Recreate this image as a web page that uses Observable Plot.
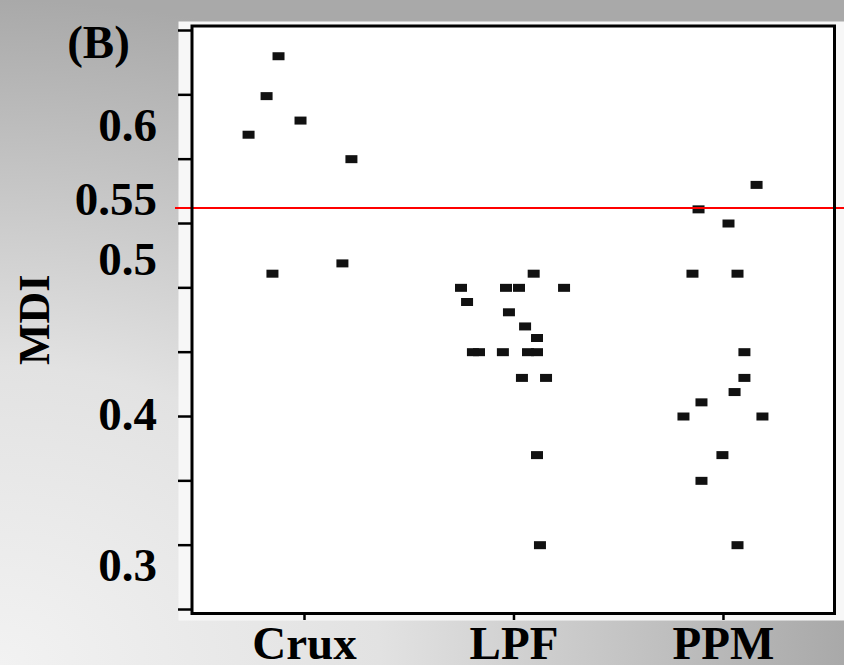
<!DOCTYPE html>
<html>
<head>
<meta charset="utf-8">
<script src="https://cdn.jsdelivr.net/npm/d3@7"></script>
<script src="https://cdn.jsdelivr.net/npm/@observablehq/plot@0.6"></script>
<style>
  html, body { margin: 0; padding: 0; }
  body {
    width: 844px; height: 665px; overflow: hidden;
    background: radial-gradient(ellipse 100% 100% at 0% 100%, #f2f2f2 0%, #e2e2e2 45%, #a9a9a9 100%);
  }
  #chart svg { display: block; }
</style>
</head>
<body>
<div id="chart"></div>
<script>
// ---- data ----
const categories = ["Crux", "LPF", "PPM"];

const cruxMDI    = [0.680, 0.649, 0.630, 0.619, 0.600, 0.519, 0.511];
const cruxJitter = [-0.124, -0.181, -0.019, -0.267, 0.224, 0.181, -0.153];

const lpfMDI    = [0.511, 0.500, 0.500, 0.500, 0.500, 0.489, 0.481, 0.470, 0.461,
                   0.450, 0.450, 0.450, 0.450, 0.450, 0.430, 0.430, 0.370, 0.300];
const lpfJitter = [0.094, -0.253, -0.038, 0.024, 0.239, -0.224, -0.024, 0.053, 0.110,
                   -0.196, -0.167, -0.053, 0.067, 0.110, 0.038, 0.153, 0.110, 0.124];

const ppmMDI    = [0.580, 0.561, 0.550, 0.511, 0.511, 0.450, 0.430, 0.419, 0.411,
                   0.400, 0.400, 0.370, 0.350, 0.300];
const ppmJitter = [0.158, -0.119, 0.024, -0.148, 0.067, 0.100, 0.100, 0.053, -0.105,
                   -0.191, 0.186, -0.005, -0.105, 0.067];

const threshold = 0.562;                       // red reference line ("0.55")
const yTicks = [0.25, 0.30, 0.35, 0.40, 0.45, 0.50, 0.55, 0.60, 0.65, 0.70];
const yLabelText = ["0.3", "0.4", "0.5", "0.55", "0.6"];
const yLabelAt   = [0.284, 0.401, 0.522, 0.568, 0.626];
const yTitle = "MDI";
const panelTag = "(B)";

// ---- build table ----
const groups = [[cruxMDI, cruxJitter], [lpfMDI, lpfJitter], [ppmMDI, ppmJitter]];
const points = groups.flatMap(([vals, jit], gi) =>
  vals.map((v, i) => ({group: categories[gi], x: gi + 1 + jit[i], mdi: v})));

const rectSymbol = {
  draw(context) { context.rect(-6, -4, 12, 8); }
};

const font = "'Liberation Serif', 'Times New Roman', serif";

const chart = Plot.plot({
  width: 844,
  height: 665,
  marginLeft: 191.5,
  marginRight: 10,
  marginTop: 25.5,
  marginBottom: 52,
  style: {background: "transparent", fontFamily: font},
  x: {type: "linear", domain: [0.463, 3.530], axis: null, label: null},
  y: {type: "linear", domain: [0.2469, 0.7035], axis: null, label: null},
  marks: [
    // light panel behind the plot
    Plot.frame({fill: "#f7f7f7", stroke: "none",
                insetLeft: -13.5, insetTop: -4.5, insetBottom: -7, insetRight: -10}),
    Plot.frame({fill: "white", stroke: "none"}),
    // y tick marks (every 0.05), no labels
    Plot.axisY({ticks: yTicks, tickSize: 13.5, strokeWidth: 2.5, stroke: "black",
                tickFormat: () => "", label: null}),
    // y labels as drawn in the figure
    Plot.axisY({ticks: yLabelAt, tickSize: 0, tickPadding: 35, label: null,
                tickFormat: d => yLabelText[yLabelAt.indexOf(d)],
                fontSize: 47, fontWeight: "bold", fontFamily: font, fill: "black"}),
    // x axis
    Plot.axisX({ticks: [1, 2, 3], tickSize: 7, tickPadding: 5, strokeWidth: 2.5, label: null,
                tickFormat: d => categories[d - 1],
                fontSize: 47, fontWeight: "bold", fontFamily: font, fill: "black"}),
    // points
    Plot.dot(points, {x: "x", y: "mdi", symbol: rectSymbol, r: 4, fill: "#111", stroke: "none"}),
    // red reference line
    Plot.ruleY([threshold], {stroke: "#ff0000", strokeWidth: 2, insetLeft: -16.5, insetRight: -10}),
    // frame border
    Plot.frame({stroke: "black", strokeWidth: 3}),
    // y title
    Plot.text([yTitle], {frameAnchor: "left", dx: -157.5, rotate: -90,
                         fontSize: 44, fontWeight: "bold", fontFamily: font, fill: "black",
                         textAnchor: "middle", lineAnchor: "middle"}),
    // panel tag
    Plot.text([panelTag], {frameAnchor: "top-left", dx: -93.5, dy: 16.5,
                           fontSize: 47, fontWeight: "bold", fontFamily: font, fill: "black",
                           textAnchor: "middle", lineAnchor: "middle"})
  ]
});

document.getElementById("chart").appendChild(chart);
</script>
</body>
</html>
